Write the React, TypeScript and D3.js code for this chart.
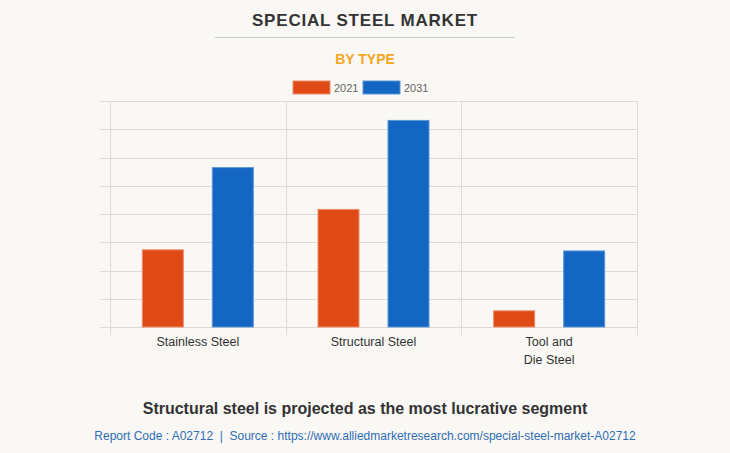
import React from "react";
import * as d3 from "d3";

const categories: string[][] = [["Stainless Steel"], ["Structural Steel"], ["Tool and", "Die Steel"]];
const seriesNames = ["2021", "2031"];
const values2021 = [2.75, 4.18, 0.59];
const values2031 = [5.66, 7.33, 2.71];
const yTicks = [0, 1, 2, 3, 4, 5, 6, 7, 8];
const colors = ["#E04A16", "#1366C2"];
const strokes = ["#EE8B6A", "#5C95D6"];

const W = 730, H = 453;
const left = 110, right = 637, top = 101, bottom = 327;

export default function App() {
  const x0 = d3.scaleBand<number>().domain(categories.map((_, i) => i)).range([left, right]).padding(0);
  const y = d3.scaleLinear().domain([0, 8]).range([bottom, top]);
  const groupW = 112;
  const x1 = d3.scaleBand<string>().domain(seriesNames).range([0, groupW]).paddingInner(0.4);
  const series = [values2021, values2031];
  const font = "Arial, 'Liberation Sans', sans-serif";

  return (
    <div style={{ position: "fixed", left: 0, top: 0 }}>
      <svg width={W} height={H} style={{ display: "block", fontFamily: font }}>
        <rect x={0} y={0} width={W} height={H} fill="#F9F8F4" />
        <text x={365} y={26} textAnchor="middle" fontSize={17} fontWeight="bold" fill="#333" letterSpacing={0.8}>SPECIAL STEEL MARKET</text>
        <line x1={215} x2={515} y1={37.5} y2={37.5} stroke="#ccc" strokeWidth={1} />
        <text x={365} y={64} textAnchor="middle" fontSize={14} fontWeight="bold" fill="#F6A624">BY TYPE</text>
        {seriesNames.map((s, i) => (
          <g key={s} transform={`translate(${293 + i * 70},81)`}>
            <rect x={0} y={0} width={37} height={13} fill={colors[i]} stroke={strokes[i]} strokeWidth={1} />
            <text x={41} y={10.5} fontSize={11} fill="#666">{s}</text>
          </g>
        ))}
        {yTicks.map((t) => (
          <line key={t} x1={left - 10} x2={right} y1={Math.round(y(t)) + 0.5} y2={Math.round(y(t)) + 0.5} stroke="#DEDBD6" strokeWidth={1} />
        ))}
        {[...categories.map((_, i) => x0(i)!), right].map((xv, i) => (
          <line key={i} x1={Math.round(xv) + 0.5} x2={Math.round(xv) + 0.5} y1={top} y2={bottom + 8} stroke="#DEDBD6" strokeWidth={1} />
        ))}
        {categories.map((c, i) => {
          const gx = x0(i)! + (x0.bandwidth() - groupW) / 2;
          return (
            <g key={i}>
              {series.map((vals, si) => (
                <rect key={si} x={gx + x1(seriesNames[si])! + 0.5} y={y(vals[i]) + 0.5} width={x1.bandwidth() - 1} height={bottom - y(vals[i]) - 0.5}
                  fill={colors[si]} stroke={strokes[si]} strokeWidth={1} />
              ))}
              {c.map((line, li) => (
                <text key={li} x={x0(i)! + x0.bandwidth() / 2} y={346 + li * 18} textAnchor="middle" fontSize={12.5} fill="#333">{line}</text>
              ))}
            </g>
          );
        })}
        <text x={365} y={414} textAnchor="middle" fontSize={16} fontWeight="bold" fill="#333">Structural steel is projected as the most lucrative segment</text>
        <text x={365} y={440} textAnchor="middle" fontSize={12} fill="#2F6DB5" style={{ whiteSpace: "pre" }}>{"Report Code : A02712  |  Source : https://www.alliedmarketresearch.com/special-steel-market-A02712"}</text>
      </svg>
    </div>
  );
}
